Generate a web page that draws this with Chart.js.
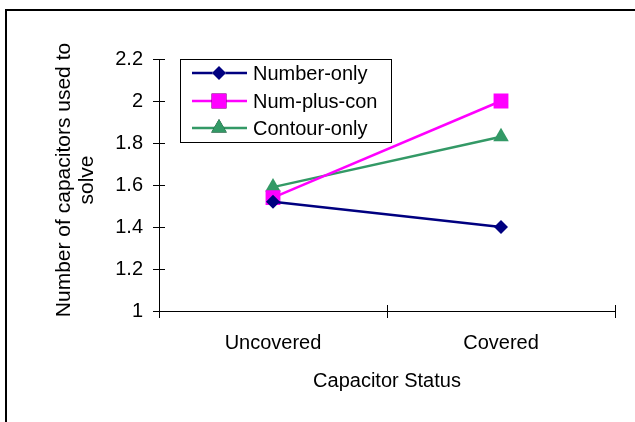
<!DOCTYPE html>
<html><head><meta charset="utf-8">
<script src="https://cdn.jsdelivr.net/npm/chart.js@4"></script>
<style>html,body{margin:0;padding:0;background:#fff}#wrap{width:635px;height:422px;position:relative}canvas{display:block}</style>
</head><body><div id="wrap"><canvas id="c" width="635" height="422"></canvas></div>
<script>
const categories = ['Uncovered', 'Covered'];
const numberOnly = [1.52, 1.40];
const numPlusCon = [1.54, 2.00];
const contourOnly = [1.59, 1.83];
const yTicks = [1, 1.2, 1.4, 1.6, 1.8, 2, 2.2];
const seriesNames = ['Number-only', 'Num-plus-con', 'Contour-only'];
const xTitle = 'Capacitor Status';
const yTitle = ['Number of capacitors used to', 'solve'];

const FONT = '"Liberation Sans", Arial, sans-serif';
const FS = 20;

const decor = {
  id: 'decor',
  afterDraw(chart) {
    const ctx = chart.ctx;
    const xs = chart.scales.x, ys = chart.scales.y;
    const L = xs.left, R = xs.right, T = ys.top, B = ys.bottom;
    ctx.save();
    // outer frame
    ctx.strokeStyle = '#000'; ctx.lineWidth = 2;
    ctx.strokeRect(6, 10, 700, 500);
    // axes
    ctx.lineWidth = 1; ctx.strokeStyle = '#000';
    ctx.beginPath();
    ctx.moveTo(Math.round(L) + 0.5, T); ctx.lineTo(Math.round(L) + 0.5, B + 0.5);
    ctx.moveTo(L, Math.round(B) + 0.5); ctx.lineTo(R, Math.round(B) + 0.5);
    yTicks.forEach(v => {
      const py = Math.round(ys.getPixelForValue(v)) + 0.5;
      ctx.moveTo(L - 6, py); ctx.lineTo(L + 6, py);
    });
    const bx = [L];
    for (let i = 0; i < categories.length - 1; i++) bx.push((xs.getPixelForValue(i) + xs.getPixelForValue(i + 1)) / 2);
    bx.push(R);
    bx.forEach(px => { const p = Math.round(px) + 0.5; ctx.moveTo(p, B - 6); ctx.lineTo(p, B + 7); });
    ctx.stroke();
    // titles
    ctx.fillStyle = '#000';
    ctx.font = FS + 'px ' + FONT;
    ctx.textAlign = 'center'; ctx.textBaseline = 'middle';
    ctx.fillText(xTitle, (L + R) / 2, 381);
    ctx.save();
    ctx.font = '21px ' + FONT;
    ctx.translate(64, 180); ctx.rotate(-Math.PI / 2);
    ctx.fillText(yTitle[0], 0, 0);
    ctx.fillText(yTitle[1], 0, 23);
    ctx.restore();
    // legend
    const lx = 180, ly = 59, lw = 211, lh = 83;
    ctx.fillStyle = '#fff'; ctx.fillRect(lx, ly, lw, lh);
    ctx.strokeStyle = '#000'; ctx.lineWidth = 1;
    ctx.strokeRect(lx + 0.5, ly + 0.5, lw, lh);
    const rows = [73, 101, 128];
    chart.data.datasets.forEach((ds, i) => {
      const y = rows[i];
      ctx.strokeStyle = ds.borderColor; ctx.lineWidth = ds.borderWidth;
      ctx.beginPath(); ctx.moveTo(192, y); ctx.lineTo(247, y); ctx.stroke();
      Chart.helpers.drawPoint(ctx, {pointStyle: ds.pointStyle, radius: ds.pointRadius, borderWidth: 0, rotation: 0}, 219, y);
      ctx.fillStyle = ds.pointBackgroundColor; ctx.fill();
      ctx.fillStyle = '#000'; ctx.textAlign = 'left'; ctx.textBaseline = 'middle';
      ctx.font = FS + 'px ' + FONT;
      ctx.fillText(ds.label, 253, y + 1);
    });
    ctx.restore();
  }
};

function mk(label, data, color, style, r) {
  return { label, data, borderColor: color, backgroundColor: color, pointBackgroundColor: color,
    pointBorderColor: color, pointBorderWidth: 0, borderWidth: 2.5, pointStyle: style,
    pointRadius: r, pointHoverRadius: r, tension: 0 };
}

new Chart(document.getElementById('c'), {
  type: 'line',
  data: {
    labels: categories,
    datasets: [
      mk(seriesNames[0], numberOnly, '#000080', 'rectRot', 7),
      mk(seriesNames[1], numPlusCon, '#FF00FF', 'rect', 10.5),
      mk(seriesNames[2], contourOnly, '#339966', 'triangle', 9)
    ]
  },
  options: {
    responsive: false, animation: false, devicePixelRatio: 1,
    layout: { padding: { left: 0, top: 59, right: 20, bottom: 0 } },
    plugins: { legend: { display: false }, tooltip: { enabled: false } },
    scales: {
      x: {
        type: 'category', offset: true,
        grid: { display: false, drawTicks: false }, border: { display: false },
        ticks: { color: '#000', font: { family: FONT, size: FS }, padding: 20, maxRotation: 0 },
        afterFit: s => { s.height = 111; }
      },
      y: {
        min: 1, max: 2.2,
        grid: { display: false, drawTicks: false }, border: { display: false },
        afterBuildTicks: s => { s.ticks = yTicks.map(v => ({ value: v })); },
        ticks: { color: '#000', font: { family: FONT, size: FS }, padding: 16, callback: v => String(v) },
        afterFit: s => { s.width = 159; }
      }
    }
  },
  plugins: [decor]
});
</script></body></html>
